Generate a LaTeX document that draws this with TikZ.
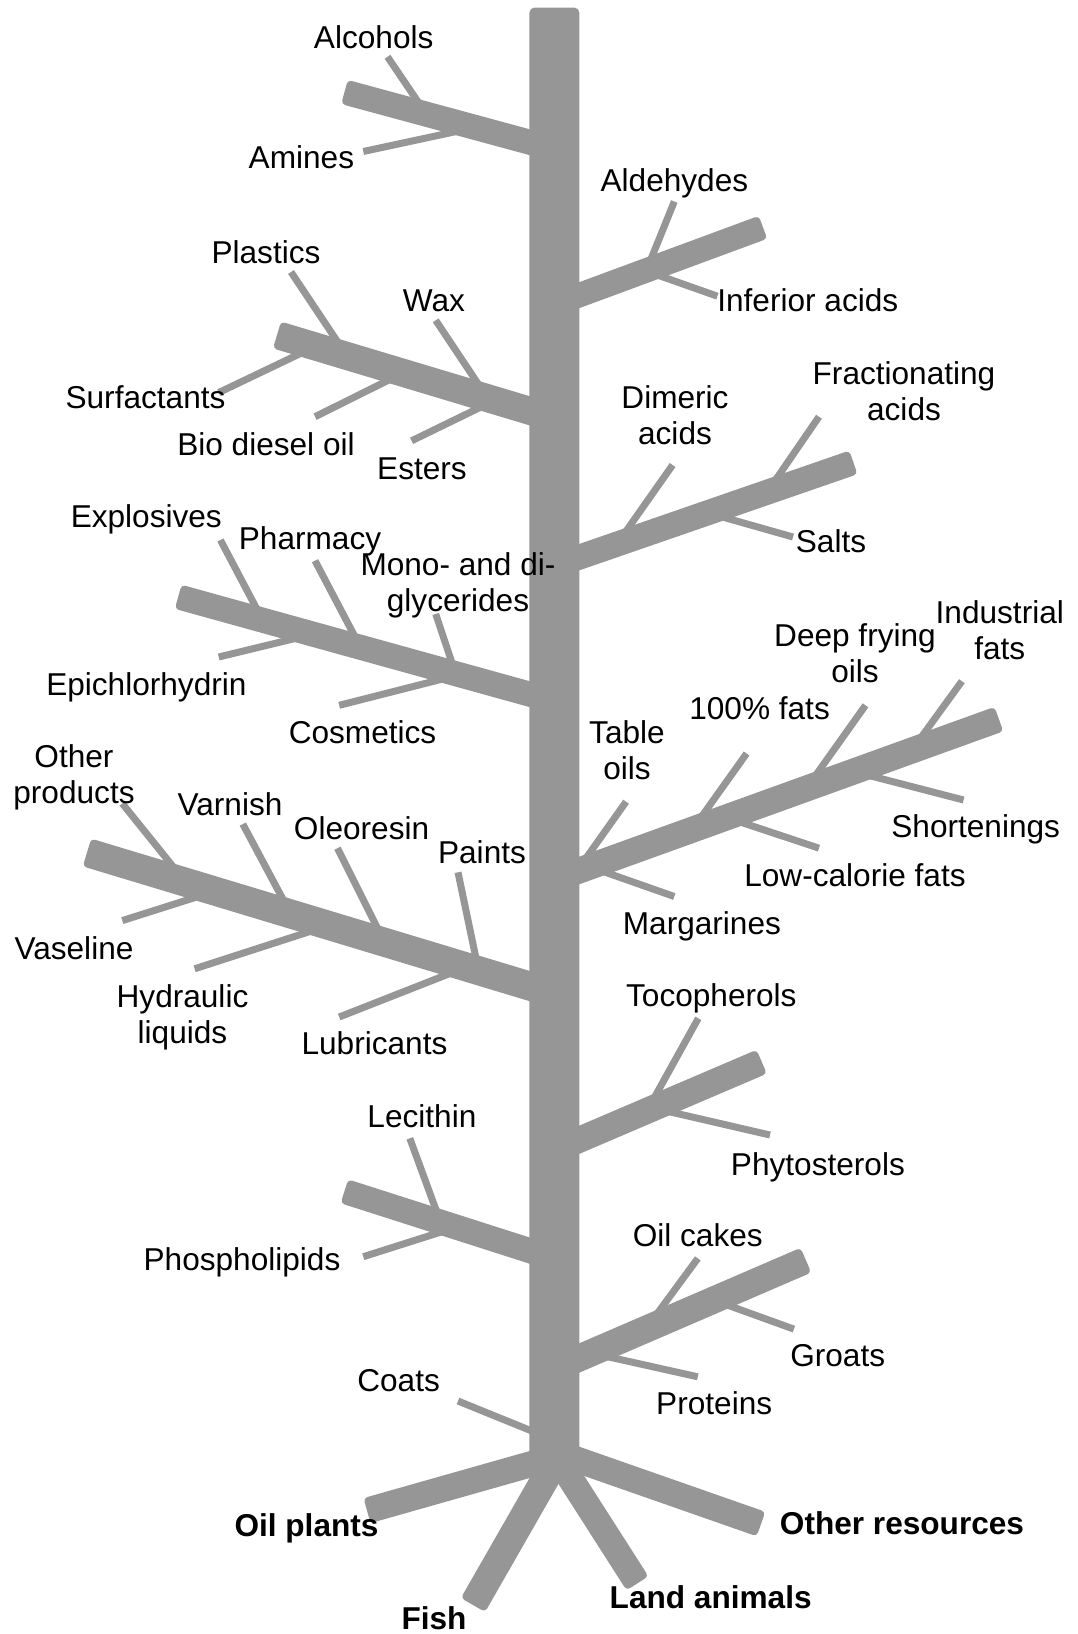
\documentclass[tikz,border=0pt]{standalone}
\usepackage{fontspec}
\setmainfont{Liberation Sans}
\usetikzlibrary{calc}
\definecolor{treegray}{RGB}{150,150,150}
\newcommand\Limb[3]{\fill[treegray,rounded corners=4pt] ($(#1)!#3!90:(#2)$) -- ($(#2)!#3!-90:(#1)$) -- ($(#2)!#3!90:(#1)$) -- ($(#1)!#3!-90:(#2)$) -- cycle;}
\tikzset{
  twig/.style={draw=treegray, line width=7pt, line cap=butt, shorten >=-12pt},
  lbl/.style={inner sep=0pt, anchor=base, align=center, text=black, font=\fontsize{31.6}{36}\selectfont},
  root/.style={lbl, font=\fontsize{31.6}{36}\selectfont\bfseries}
}
\begin{document}
\begin{tikzpicture}[x=1pt,y=-1pt]
\useasboundingbox (0,0) rectangle (1078,1634);
% trunk
\fill[treegray,rounded corners=5pt] (529.4,1465) -- (529.4,7.6) -- (579.3,7.6) -- (579.3,1465) -- cycle;
% limbs
\Limb{554,148.8}{344.5,92}{12.5pt}
\Limb{554,304.5}{763,227.3}{12.2pt}
\Limb{554,418.1}{277,335}{14pt}
\Limb{554,565.9}{853.4,462.4}{12.5pt}
\Limb{554,700.9}{178.2,596.8}{12.5pt}
\Limb{554,993.4}{87,852.5}{14.5pt}
\Limb{554,879.6}{998.9,719.1}{13pt}
\Limb{554,1150.6}{761.7,1061.7}{13pt}
\Limb{554,1258.4}{344.4,1191.3}{12.5pt}
\Limb{554,1368.9}{805.9,1260.2}{13.5pt}
% roots
\Limb{560,1455.9}{367,1510.6}{13pt}
\Limb{554,1451.6}{761,1524}{13pt}
\Limb{556,1460}{473,1605}{14pt}
\Limb{558.6,1460}{637.5,1583.3}{13pt}
% twigs
\draw[twig] (387.5,56.8) -- (416.7,99.9);
\draw[twig] (363.3,151.5) -- (451.2,132.6);
\draw[twig] (674.3,201.5) -- (652,256.6);
\draw[twig] (717.4,296.2) -- (658.8,275.5);
\draw[twig] (291,272) -- (335.8,339.2);
\draw[twig] (218.7,392.6) -- (297.9,354.7);
\draw[twig] (435.7,320.3) -- (477,382.3);
\draw[twig] (315.1,416.7) -- (387.5,380.6);
\draw[twig] (411.6,440.8) -- (478.7,408.1);
\draw[twig] (672.6,465) -- (627.8,528.7);
\draw[twig] (819,416.7) -- (777.6,477);
\draw[twig] (793,537) -- (721,516.6);
\draw[twig] (220.4,540) -- (254.9,605.4);
\draw[twig] (315,560.7) -- (353,633);
\draw[twig] (435.7,614) -- (451.2,660.5);
\draw[twig] (218.7,657) -- (289.3,639.9);
\draw[twig] (339.2,705.3) -- (434,681.2);
\draw[twig] (122.3,803.5) -- (172.2,865.5);
\draw[twig] (242.8,824.1) -- (282.4,898.2);
\draw[twig] (337.5,848.2) -- (377.1,927.5);
\draw[twig] (458,872.3) -- (475.3,955);
\draw[twig] (122.3,920.6) -- (192.9,898.2);
\draw[twig] (194.6,968.8) -- (306.5,932.6);
\draw[twig] (339.2,1017) -- (444.3,975.7);
\draw[twig] (626.1,801.7) -- (588.2,855.1);
\draw[twig] (746.6,753.5) -- (703.6,813.8);
\draw[twig] (865.5,705.3) -- (819,770.7);
\draw[twig] (961.9,681.2) -- (925.7,731.1);
\draw[twig] (674.3,896.5) -- (605.4,872.3);
\draw[twig] (819,848.2) -- (746.6,824.1);
\draw[twig] (963.6,800) -- (870.6,775.9);
\draw[twig] (698.3,1018.3) -- (656.7,1093.3);
\draw[twig] (770,1135) -- (672.7,1112.5);
\draw[twig] (409.8,1138.3) -- (435.7,1209);
\draw[twig] (363.3,1256.7) -- (435.7,1233.7);
\draw[twig] (697.8,1258.4) -- (660.1,1309.6);
\draw[twig] (793.9,1329.1) -- (725.3,1304.3);
\draw[twig] (697.8,1376.8) -- (610.3,1357.3);
\draw[twig] (458,1401) -- (529.4,1430);
% labels (anchor base = baseline of the last line)
\node[lbl] (alc) at (373.7,48.2) {Alcohols};
\node[lbl] (ami) at (301.4,168) {Amines};
\node[lbl] (ald) at (674.4,191.1) {Aldehydes};
\node[lbl] (inf) at (807.8,311) {Inferior acids};
\node[lbl] (pla) at (266,263.5) {Plastics};
\node[lbl] (wax) at (434,311.7) {Wax};
\node[lbl] (sur) at (145.5,408.1) {Surfactants};
\node[lbl] (bio) at (266,455.5) {Bio diesel oil};
\node[lbl] (est) at (422,479.7) {Esters};
\node[lbl] (dim) at (675,444) {Dimeric\\acids};
\node[lbl] (fra) at (904,420) {Fractionating\\acids};
\node[lbl] (sal) at (831,552) {Salts};
\node[lbl] (exp) at (146.3,527) {Explosives};
\node[lbl] (pha) at (310,549) {Pharmacy};
\node[lbl] (mon) at (458,611.5) {Mono- and di-\\glycerides};
\node[lbl] (epi) at (146.4,695) {Epichlorhydrin};
\node[lbl] (cos) at (362.5,743.2) {Cosmetics};
\node[lbl] (oth) at (74,803.5) {Other\\products};
\node[lbl] (var) at (230,815.5) {Varnish};
\node[lbl] (ole) at (361.6,839.6) {Oleoresin};
\node[lbl] (pai) at (482,863.7) {Paints};
\node[lbl] (vas) at (74,959.5) {Vaseline};
\node[lbl] (hyd) at (182.5,1043.5) {Hydraulic\\liquids};
\node[lbl] (lub) at (374.5,1054.9) {Lubricants};
\node[lbl] (tab) at (627,779.4) {Table\\oils};
\node[lbl] (hun) at (759.6,719.1) {100\% fats};
\node[lbl] (dee) at (855,682.9) {Deep frying\\oils};
\node[lbl] (ind) at (999.8,659.5) {Industrial\\fats};
\node[lbl] (sho) at (975.7,837.9) {Shortenings};
\node[lbl] (low) at (855,886.1) {Low-calorie fats};
\node[lbl] (mar) at (701.9,934.3) {Margarines};
\node[lbl] (toc) at (711.3,1006.7) {Tocopherols};
\node[lbl] (phy) at (817.9,1175.4) {Phytosterols};
\node[lbl] (lec) at (421.9,1127.7) {Lecithin};
\node[lbl] (pho) at (242,1270.8) {Phospholipids};
\node[lbl] (oil) at (697.8,1246.8) {Oil cakes};
\node[lbl] (gro) at (837.7,1366.9) {Groats};
\node[lbl] (pro) at (714.2,1414.5) {Proteins};
\node[lbl] (coa) at (398.6,1391) {Coats};
\node[root] (olp) at (306.5,1536) {Oil plants};
\node[root] (otr) at (902,1534.5) {Other resources};
\node[root] (lan) at (710.7,1608) {Land animals};
\node[root] (fis) at (434,1629.5) {Fish};
\end{tikzpicture}
\end{document}
